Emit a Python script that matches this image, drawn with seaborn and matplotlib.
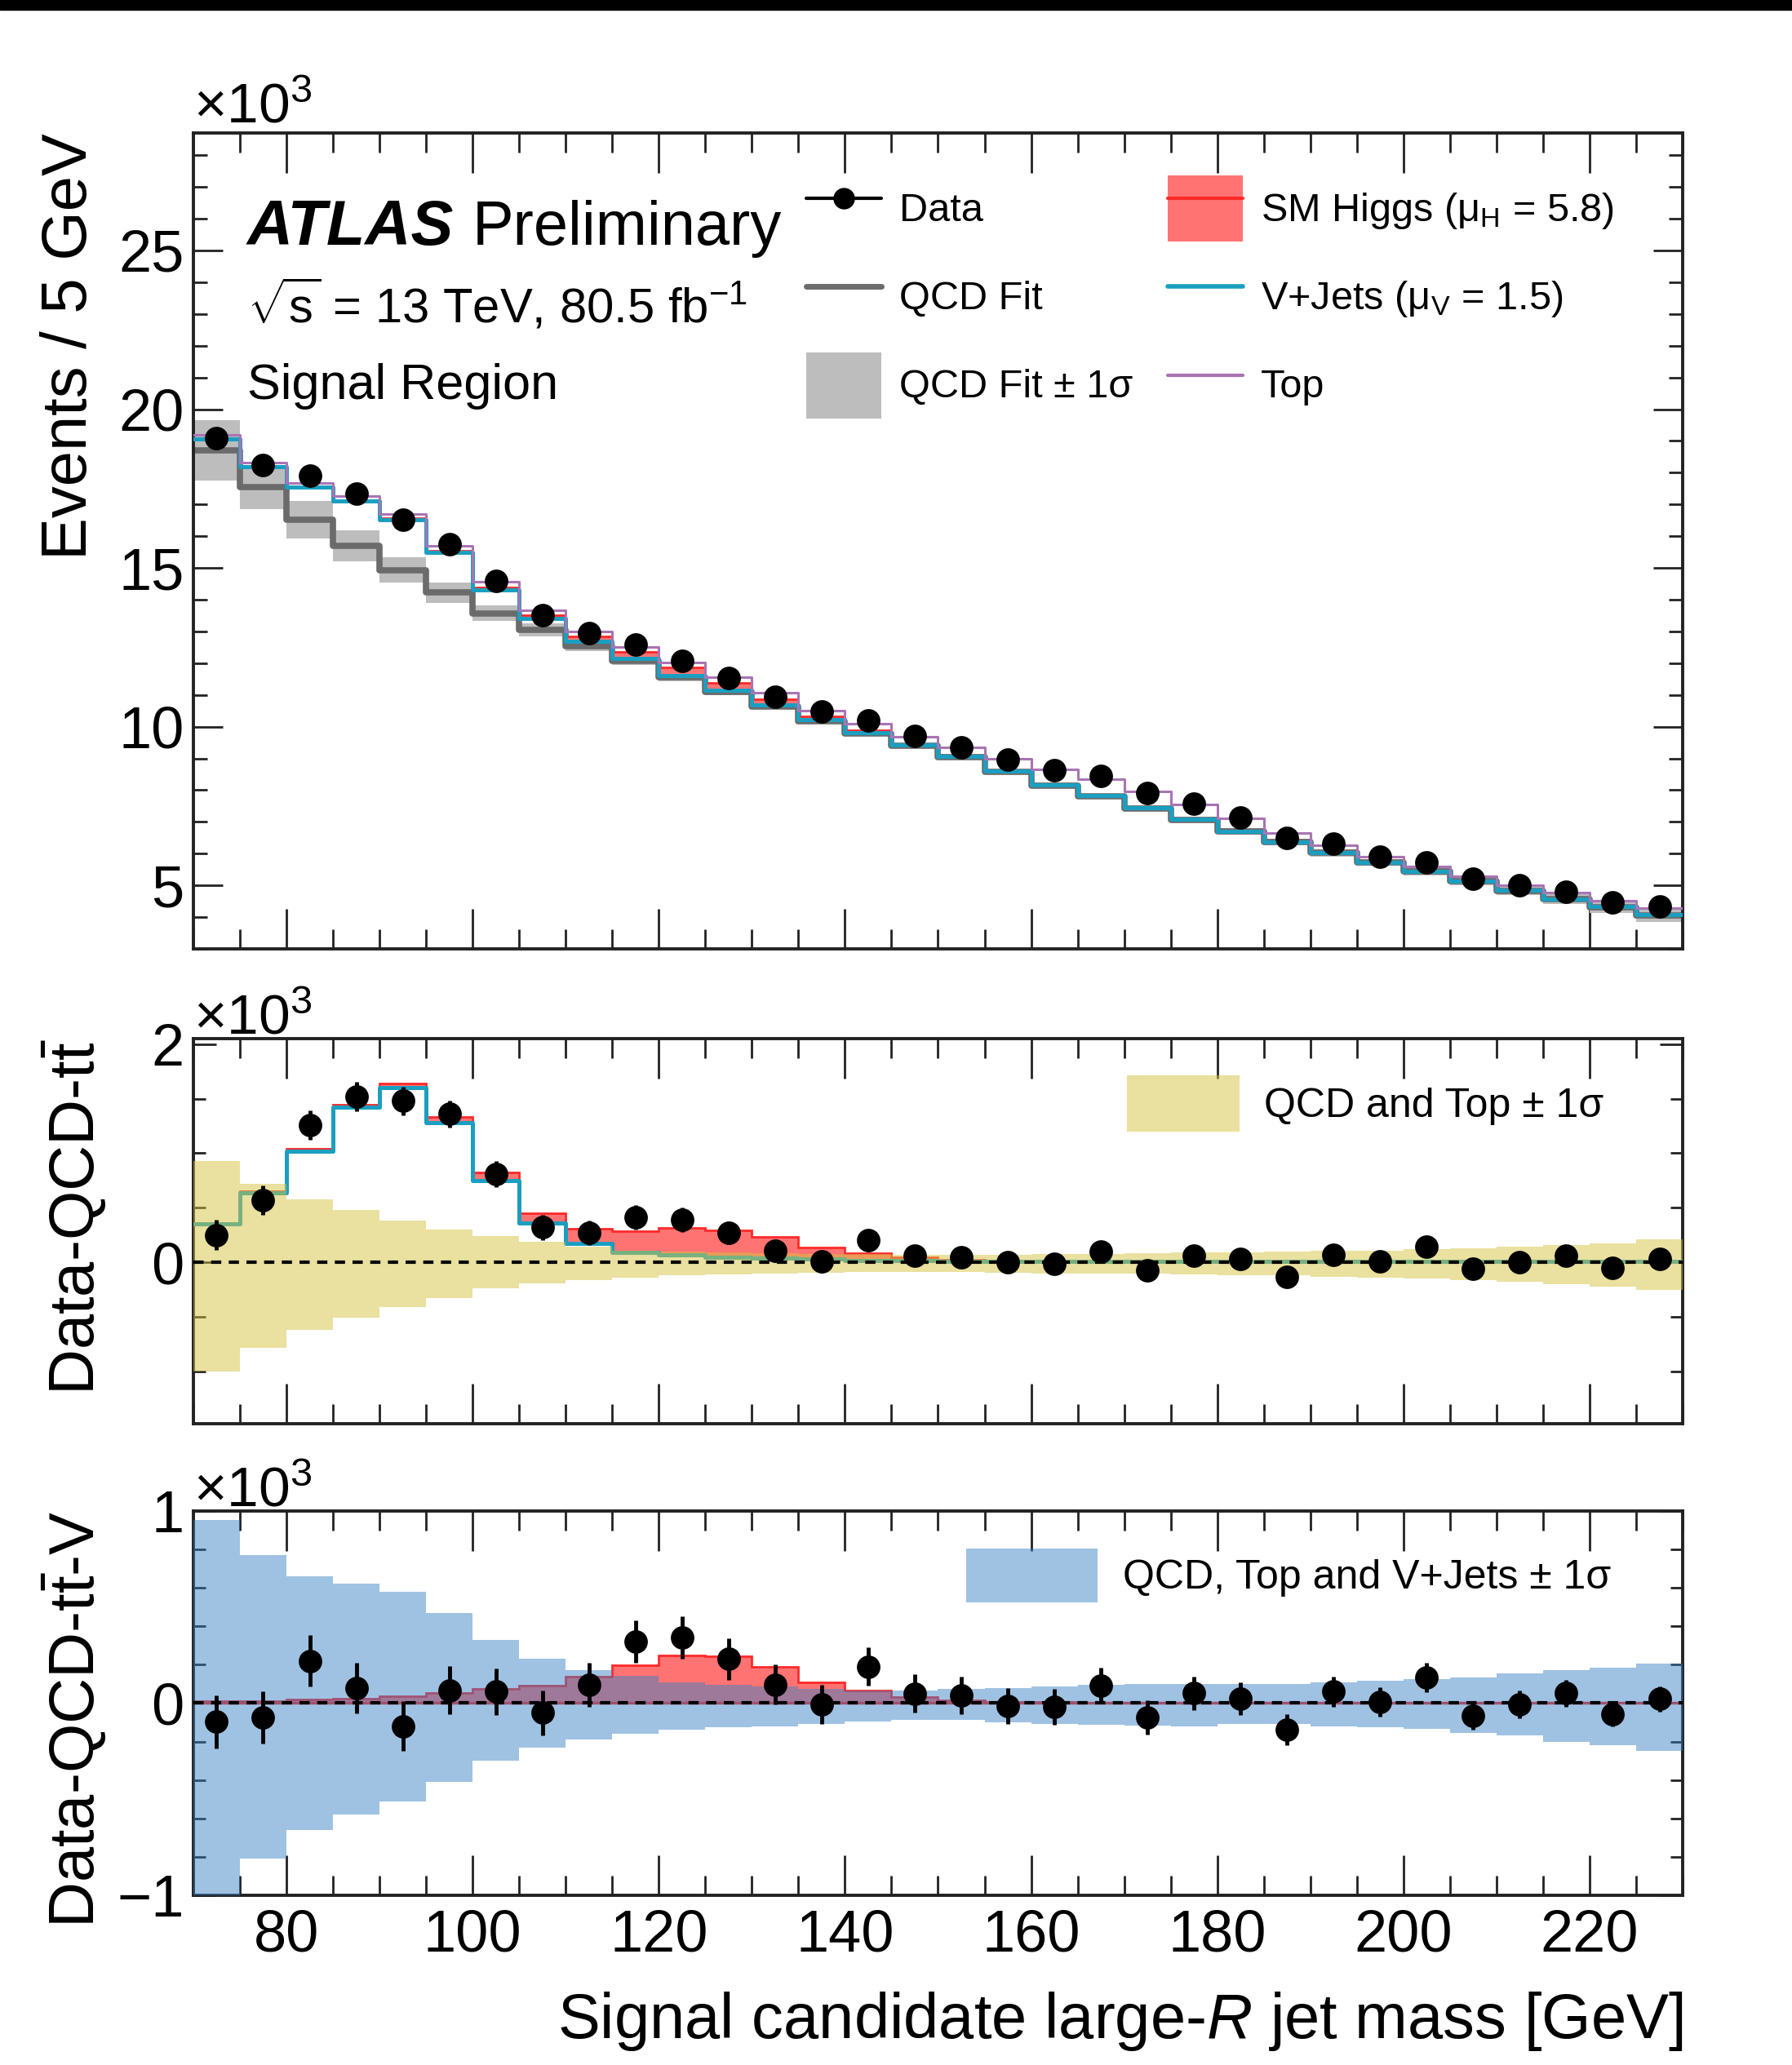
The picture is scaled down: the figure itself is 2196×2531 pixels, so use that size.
"""
ATLAS-style large-R jet mass plot with two residual panels.
"""

import numpy as np
import matplotlib
matplotlib.use("Agg")
import matplotlib.pyplot as plt
import seaborn as sns
from matplotlib.patches import Patch, Rectangle
from matplotlib.lines import Line2D
from matplotlib.ticker import MultipleLocator

# ---------------------------------------------------------------- data (x10^3 events)
edges = np.arange(70, 235, 5)          # 5 GeV bins, 70-230 GeV
centers = edges[:-1] + 2.5

data = [19.08, 18.24, 17.90, 17.35, 16.53, 15.74, 14.58, 13.52, 12.95, 12.58,
        12.08, 11.54, 10.95, 10.47, 10.20, 9.72, 9.34, 8.96, 8.64, 8.45,
        7.90, 7.58, 7.13, 6.49, 6.32, 5.90, 5.72, 5.21, 5.00, 4.80, 4.46, 4.34]
qcd = [18.71, 17.54, 16.52, 15.69, 14.93, 14.22, 13.57, 13.05, 12.53, 12.07,
       11.55, 11.09, 10.64, 10.18, 9.79, 9.40, 9.05, 8.58, 8.15, 7.81,
       7.43, 7.07, 6.70, 6.36, 6.02, 5.72, 5.43, 5.13, 4.83, 4.57, 4.32, 4.06]
qcd_err = [0.95, 0.68, 0.59, 0.49, 0.40, 0.33, 0.25, 0.20, 0.15, 0.12,
           0.11, 0.10, 0.09, 0.085, 0.08, 0.08, 0.08, 0.08, 0.08, 0.085,
           0.09, 0.09, 0.095, 0.10, 0.105, 0.11, 0.12, 0.13, 0.14, 0.16, 0.18, 0.20]
top = [0.12, 0.12, 0.12, 0.12, 0.12, 0.14, 0.16, 0.16, 0.16, 0.15,
       0.15, 0.17, 0.19, 0.20, 0.21, 0.23, 0.26, 0.38, 0.48, 0.52,
       0.52, 0.46, 0.40, 0.28, 0.23, 0.18, 0.16, 0.15, 0.16, 0.18, 0.19, 0.22]
vjets = [0.35, 0.64, 1.02, 1.42, 1.60, 1.28, 0.75, 0.36, 0.17, 0.09,
         0.07, 0.05, 0.04, 0.03, 0.02, 0.015, 0.012, 0.01, 0.01, 0.01,
         0.01, 0.01, 0.01, 0.01, 0.01, 0.01, 0.01, 0.01, 0.01, 0.01, 0.01, 0.01]
higgs = [0.012, 0.012, 0.018, 0.025, 0.037, 0.052, 0.074, 0.093, 0.138, 0.197,
         0.249, 0.244, 0.190, 0.107, 0.067, 0.030, 0.015, 0.008, 0.005, 0.004,
         0.004, 0.004, 0.004, 0.004, 0.003, 0.003, 0.003, 0.003, 0.003, 0.003, 0.003, 0.003]

# data - QCD - ttbar
resid_qcd_top = [0.25, 0.57, 1.26, 1.52, 1.48, 1.36, 0.81, 0.32, 0.27, 0.41,
                 0.39, 0.27, 0.11, 0.01, 0.20, 0.06, 0.05, 0.00, -0.01, 0.10,
                 -0.07, 0.06, 0.03, -0.13, 0.07, 0.01, 0.14, -0.06, 0.00, 0.06, -0.05, 0.03]
band_qcd_top_up = [0.93, 0.72, 0.58, 0.48, 0.38, 0.30, 0.24, 0.19, 0.14, 0.11,
                   0.10, 0.09, 0.085, 0.08, 0.075, 0.07, 0.07, 0.07, 0.075, 0.08,
                   0.085, 0.09, 0.095, 0.10, 0.105, 0.11, 0.12, 0.13, 0.14, 0.155, 0.17, 0.21]
band_qcd_top_dn = [1.00, 0.78, 0.62, 0.51, 0.41, 0.33, 0.24, 0.19, 0.165, 0.14,
                   0.12, 0.11, 0.10, 0.095, 0.09, 0.09, 0.09, 0.095, 0.10, 0.10,
                   0.105, 0.11, 0.115, 0.12, 0.13, 0.14, 0.15, 0.165, 0.18, 0.20, 0.22, 0.25]

# data - QCD - ttbar - V
resid_all = [-0.096, -0.074, 0.22, 0.08, -0.12, 0.067, 0.06, -0.05, 0.096, 0.32,
             0.34, 0.23, 0.096, -0.007, 0.19, 0.05, 0.04, -0.015, -0.02, 0.093,
             -0.074, 0.052, 0.022, -0.14, 0.06, 0.007, 0.133, -0.067, -0.007, 0.052, -0.056, 0.022]
band_all_up = [0.955, 0.77, 0.66, 0.62, 0.58, 0.47, 0.33, 0.23, 0.17, 0.14,
               0.11, 0.096, 0.086, 0.074, 0.067, 0.067, 0.074, 0.08, 0.088, 0.096,
               0.098, 0.10, 0.10, 0.10, 0.11, 0.118, 0.126, 0.133, 0.155, 0.17, 0.185, 0.207]
band_all_dn = [1.05, 0.81, 0.66, 0.58, 0.51, 0.41, 0.30, 0.23, 0.19, 0.16,
               0.14, 0.126, 0.12, 0.107, 0.096, 0.089, 0.089, 0.10, 0.11, 0.114,
               0.118, 0.12, 0.11, 0.11, 0.12, 0.125, 0.133, 0.155, 0.17, 0.20, 0.22, 0.25]

# ---------------------------------------------------------------- style
sns.set_style("ticks")
plt.rcParams["font.family"] = ["Liberation Sans", "DejaVu Sans"]
plt.rcParams.update({
    "mathtext.fontset": "custom",
    "mathtext.rm": "Liberation Sans",
    "mathtext.it": "Liberation Sans:italic",
    "mathtext.bf": "Liberation Sans:bold",
    "mathtext.sf": "Liberation Sans",
    "axes.edgecolor": "#222222",
    "axes.linewidth": 2.8,
    "text.color": "black",
    "axes.labelcolor": "black",
    "xtick.color": "black",
    "ytick.color": "black",
})

QCD_LINE = "#6b6b6b"
QCD_BAND = "#bdbdbd"
V_COLOR = "#1a9fc0"
TOP_COLOR = "#a974b4"
H_FILL = "#ff7373"
H_LINE = "#ff2a2a"
YELLOW = "#d7c341"
BLUE = "#3781c6"

TICK_FS = 52
LABEL_FS = 56

data = np.array(data)
qcd = np.array(qcd)
top = np.array(top)
vjets = np.array(vjets)
higgs = np.array(higgs)
data_err = np.sqrt(data * 1000.0) / 1000.0


def step_line(ax, vals, **kw):
    vals = np.asarray(vals)
    sns.lineplot(x=edges, y=np.append(vals, vals[-1]), drawstyle="steps-post",
                 estimator=None, sort=False, legend=False, ax=ax, **kw)


def draw_points(ax, vals):
    ax.errorbar(centers, vals, yerr=data_err, fmt="none", ecolor="k",
                elinewidth=3.5, capsize=0, zorder=9)
    sns.scatterplot(x=centers, y=vals, ax=ax, color="k", s=430,
                    linewidth=0, zorder=10, legend=False)


def style_axes(ax, ymaj, ymin, ylen):
    ax.set_xlim(70, 230)
    ax.xaxis.set_major_locator(MultipleLocator(20))
    ax.xaxis.set_minor_locator(MultipleLocator(5))
    ax.yaxis.set_major_locator(MultipleLocator(ymaj))
    ax.yaxis.set_minor_locator(MultipleLocator(ymin))
    ax.tick_params(which="both", direction="in", top=True, right=True,
                   width=2.0, color="#222222", labelsize=TICK_FS)
    ax.tick_params(axis="x", which="major", length=35, pad=12)
    ax.tick_params(axis="x", which="minor", length=17)
    ax.tick_params(axis="y", which="major", length=ylen[0], pad=8)
    ax.tick_params(axis="y", which="minor", length=ylen[1])
    ax.set_xlabel("")
    ax.set_ylabel("")
    ax.text(0.0, 1.012, r"$\times$10$^{3}$", transform=ax.transAxes,
            fontsize=50, ha="left", va="baseline")


fig = plt.figure(figsize=(21.96, 25.31), dpi=100)
ax1 = fig.add_axes([0.1079, 0.5405, 0.8311, 0.3951])
ax2 = fig.add_axes([0.1079, 0.3105, 0.8311, 0.1865])
ax3 = fig.add_axes([0.1079, 0.0822, 0.8311, 0.1861])

# ---------------------------------------------------------------- main panel
ax1.stairs(qcd + np.array(qcd_err), edges, baseline=qcd - np.array(qcd_err),
           fill=True, color=QCD_BAND, lw=0, zorder=1)
step_line(ax1, qcd, color=QCD_LINE, lw=5.5, zorder=2)
ax1.stairs(qcd + vjets + higgs, edges, baseline=qcd + vjets, fill=True,
           color=H_FILL, lw=0, zorder=3)
ax1.stairs(qcd + vjets + higgs, edges, baseline=None, color=H_LINE, lw=2, zorder=3)
step_line(ax1, qcd + vjets, color=V_COLOR, lw=3.6, zorder=4)
step_line(ax1, qcd + vjets + higgs + top, color=TOP_COLOR, lw=2.2, zorder=5)
draw_points(ax1, data)
ax1.set_ylim(3.0, 28.7)
style_axes(ax1, 5, 1, (26, 12))
ax1.tick_params(labelbottom=False)
ax1.set_ylabel("Events / 5 GeV", fontsize=LABEL_FS, loc="top")
ax1.yaxis.set_label_coords(-0.063, 1.0)

ax1.text(0.0362, 0.863, "ATLAS", transform=ax1.transAxes, fontsize=56,
         fontweight="bold", fontstyle="italic", va="baseline")
ax1.text(0.1874, 0.863, "Preliminary", transform=ax1.transAxes, fontsize=54.5,
         va="baseline")
ax1.text(0.0362, 0.767, r"$\sqrt{\mathrm{s}}$ = 13 TeV, 80.5 fb$^{-1}$",
         transform=ax1.transAxes, fontsize=43, va="baseline")
ax1.text(0.0362, 0.674, "Signal Region", transform=ax1.transAxes, fontsize=44,
         va="baseline")

leg_kw = dict(loc="upper left", frameon=False, fontsize=35, handlelength=1.9,
              handleheight=2.19, labelspacing=0.56, handletextpad=0.45,
              borderpad=0, borderaxespad=0)
h_data = Line2D([], [], color="k", marker="o", markersize=18, lw=3)
h_qcd = Line2D([], [], color=QCD_LINE, lw=5)
h_band = Patch(facecolor=QCD_BAND, edgecolor="none")
leg1 = ax1.legend([h_data, h_qcd, h_band], ["Data", "QCD Fit", "QCD Fit ± 1σ"],
                  bbox_to_anchor=(0.4115, 0.948), **leg_kw)
ax1.add_artist(leg1)
h_h = (Patch(facecolor=H_FILL, edgecolor="none"), Line2D([], [], color=H_LINE, lw=3))
h_v = Line2D([], [], color=V_COLOR, lw=4)
h_t = Line2D([], [], color=TOP_COLOR, lw=3)
ax1.legend([h_h, h_v, h_t],
           [r"SM Higgs (μ$_{\mathrm{H}}$ = 5.8)", r"V+Jets (μ$_{\mathrm{V}}$ = 1.5)", "Top"],
           bbox_to_anchor=(0.654, 0.948), **leg_kw)

# ---------------------------------------------------------------- data - QCD - ttbar
ax2.stairs(vjets + higgs, edges, baseline=vjets, fill=True, color=H_FILL,
           lw=0, zorder=2)
ax2.stairs(vjets + higgs, edges, baseline=None, color=H_LINE, lw=2, zorder=2)
step_line(ax2, vjets, color=V_COLOR, lw=3.6, zorder=3)
ax2.stairs(np.array(band_qcd_top_up), edges, baseline=-np.array(band_qcd_top_dn),
           fill=True, color=YELLOW, alpha=0.5, lw=0, zorder=4)
ax2.axhline(0, color="k", lw=3, ls=(0, (3, 2.2)), zorder=5)
draw_points(ax2, resid_qcd_top)
ax2.set_ylim(-1.48, 2.05)
style_axes(ax2, 2, 0.5, (20, 11))
ax2.tick_params(labelbottom=False)
ax2.set_ylabel(r"Data-QCD-t$\bar{\mathrm{t}}$", fontsize=LABEL_FS, loc="top")
ax2.yaxis.set_label_coords(-0.057, 1.0)
ax2.legend([Patch(facecolor=YELLOW, alpha=0.5, edgecolor="none")],
           ["QCD and Top ± 1σ"], loc="upper left", bbox_to_anchor=(0.627, 0.905),
           frameon=False, fontsize=36, handlelength=2.76, handleheight=1.75,
           handletextpad=0.6, borderpad=0, borderaxespad=0)

# ---------------------------------------------------------------- data - QCD - ttbar - V
ax3.stairs(higgs, edges, baseline=0, fill=True, color=H_FILL, lw=0, zorder=2)
ax3.stairs(higgs, edges, baseline=None, color=H_LINE, lw=2, zorder=2)
ax3.axhline(0, color=H_LINE, lw=2.5, zorder=2)
ax3.stairs(np.array(band_all_up), edges, baseline=-np.array(band_all_dn),
           fill=True, color=BLUE, alpha=0.48, lw=0, zorder=3)
ax3.axhline(0, color="k", lw=3, ls=(0, (3, 2.2)), zorder=5)
draw_points(ax3, resid_all)
ax3.set_ylim(-1.0, 1.0)
style_axes(ax3, 1, 0.2, (20, 11))
ax3.set_ylabel(r"Data-QCD-t$\bar{\mathrm{t}}$-V", fontsize=LABEL_FS, loc="top")
ax3.yaxis.set_label_coords(-0.057, 1.0)
ax3.set_xlabel(r"Signal candidate large-$R$ jet mass [GeV]", fontsize=LABEL_FS,
               loc="right")
ax3.xaxis.set_label_coords(1.0, -0.246)
ax3.legend([Patch(facecolor=BLUE, alpha=0.48, edgecolor="none")],
           ["QCD, Top and V+Jets ± 1σ"], loc="upper left", bbox_to_anchor=(0.519, 0.902),
           frameon=False, fontsize=36, handlelength=3.22, handleheight=1.65,
           handletextpad=0.62, borderpad=0, borderaxespad=0)

# black strip across the top edge
fig.patches.append(Rectangle((0, 1 - 12 / 2531), 1, 12 / 2531,
                             transform=fig.transFigure, color="k", zorder=10))

fig.savefig("out.png", dpi=100)
plt.close(fig)
